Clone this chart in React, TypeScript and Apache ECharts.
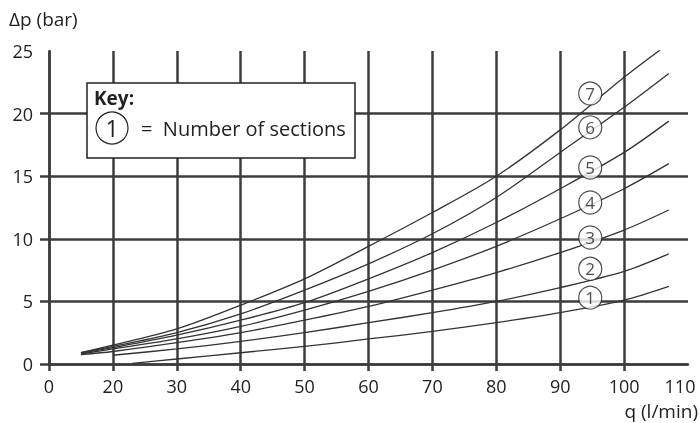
import React, { useEffect, useRef } from "react";
import * as echarts from "echarts";

// x axis is broken: the first grid column (axis value 10) is labelled "0".
const xTicks = [10, 20, 30, 40, 50, 60, 70, 80, 90, 100, 110];
const yTicks = [0, 5, 10, 15, 20, 25];

const q7 = [15, 20, 30, 40, 50, 60, 70, 80, 90, 100, 107];
const s7 = [0.9, 1.5, 2.8, 4.7, 6.8, 9.4, 12.1, 15.0, 18.7, 22.9, 25.6];
const s6 = [0.9, 1.4, 2.5, 4.0, 5.9, 8.0, 10.4, 13.3, 16.9, 20.5, 23.2];
const s5 = [0.85, 1.3, 2.3, 3.5, 4.9, 6.8, 8.9, 11.3, 14.0, 16.9, 19.4];
const s4 = [0.8, 1.2, 2.0, 3.0, 4.3, 5.8, 7.5, 9.4, 11.6, 14.0, 16.0];
const s3 = [0.75, 1.0, 1.7, 2.5, 3.5, 4.6, 5.9, 7.3, 8.9, 10.7, 12.3];
const q2 = [20, 30, 40, 50, 60, 70, 80, 90, 100, 107];
const s2 = [0.7, 1.2, 1.8, 2.5, 3.3, 4.1, 5.0, 6.1, 7.4, 8.8];
const q1 = [23, 30, 40, 50, 60, 70, 80, 90, 100, 107];
const s1 = [0.05, 0.4, 0.9, 1.4, 2.0, 2.6, 3.3, 4.1, 5.1, 6.2];

const labelNames = ["1", "2", "3", "4", "5", "6", "7"];
const labelX = [94.7, 94.7, 94.7, 94.7, 94.7, 94.7, 94.7];
const labelY = [5.3, 7.6, 10.1, 12.9, 15.7, 18.9, 21.6];

const FONT = "'Open Sans', 'DejaVu Sans', sans-serif";
const INK = "#222";
const GRID = "#3c3c3c";

export default function App() {
  const ref = useRef<HTMLDivElement>(null);
  useEffect(() => {
    const chart = echarts.init(ref.current!, null, { renderer: "svg" });
    const curves = [
      [q1, s1],
      [q2, s2],
      [q7, s3],
      [q7, s4],
      [q7, s5],
      [q7, s6],
      [q7, s7],
    ];
    const lineSeries = curves.map(([xs, ys], i) => ({
      type: "line",
      name: "c" + (i + 1),
      data: xs.map((x, j) => [x, ys[j]]),
      smooth: 0.3,
      showSymbol: false,
      lineStyle: { color: "#333", width: 1.3 },
      z: 3,
    }));
    chart.setOption({
      animation: false,
      textStyle: { fontFamily: FONT },
      grid: {
        left: 49,
        right: 12,
        top: 51,
        bottom: 59,
        containLabel: false,
        outerBoundsMode: "none",
      },
      xAxis: {
        type: "value",
        min: 10,
        max: 110,
        interval: 10,
        axisLine: { show: true, lineStyle: { color: GRID, width: 2.5 } },
        axisTick: {
          show: true,
          length: 7,
          customValues: xTicks.slice(0, 10),
          lineStyle: { color: GRID, width: 2.5 },
        },
        splitLine: {
          show: true,
          lineStyle: { color: GRID, width: 2.5 },
        },
        axisLabel: {
          fontSize: 18,
          color: INK,
          margin: 13,
          fontFamily: FONT,
          formatter: (v: number) =>
            v === 10 ? "0" : v === 110 ? "{last|110}" : String(v),
          rich: {
            last: {
              fontSize: 18,
              color: INK,
              fontFamily: FONT,
              padding: [0, 16, 0, 0],
            },
          },
        },
      },
      yAxis: {
        type: "value",
        min: 0,
        max: 25,
        interval: 5,
        axisLine: { show: true, lineStyle: { color: GRID, width: 2.5 } },
        axisTick: {
          show: true,
          length: 9,
          customValues: yTicks.slice(0, 5),
          lineStyle: { color: GRID, width: 2.5 },
        },
        splitLine: {
          show: true,
          lineStyle: { color: GRID, width: 2.5 },
        },
        axisLabel: { fontSize: 18, color: INK, margin: 16, fontFamily: FONT },
      },
      series: [
        ...lineSeries,
        {
          type: "scatter",
          data: labelNames.map((n, i) => ({ name: n, value: [labelX[i], labelY[i]] })),
          symbol: "circle",
          symbolSize: 23,
          itemStyle: { color: "#fff", borderColor: INK, borderWidth: 1.2 },
          label: {
            show: true,
            position: "inside",
            formatter: (p: any) => p.name,
            fontSize: 17,
            color: INK,
            fontFamily: FONT,
          },
          z: 5,
        },
      ],
      graphic: [
        {
          type: "text",
          left: 9,
          top: 9,
          style: { text: "Δp (bar)", fill: INK, fontSize: 19, fontFamily: FONT },
        },
        {
          type: "text",
          right: 2,
          top: 401,
          style: { text: "q (l/min)", fill: INK, fontSize: 19, fontFamily: FONT },
        },
        {
          type: "rect",
          z: 100,
          shape: { x: 87, y: 83, width: 268, height: 75 },
          style: { fill: "#fff", stroke: INK, lineWidth: 1.5 },
        },
        {
          type: "text",
          z: 101,
          x: 94,
          y: 88,
          style: {
            text: "Key:",
            fontSize: 19,
            fontWeight: "bold",
            fontFamily: FONT,
            fill: INK,
          },
        },
        {
          type: "circle",
          z: 101,
          shape: { cx: 112, cy: 128, r: 16 },
          style: { fill: "#fff", stroke: INK, lineWidth: 1.2 },
        },
        {
          type: "text",
          z: 102,
          x: 112,
          y: 128,
          style: {
            text: "1",
            fontSize: 23,
            fontFamily: FONT,
            fill: INK,
            align: "center",
            verticalAlign: "middle",
          },
        },
        {
          type: "text",
          z: 101,
          x: 141,
          y: 128,
          style: {
            text: "=  Number of sections",
            fontSize: 20,
            fontFamily: FONT,
            fill: INK,
            verticalAlign: "middle",
          },
        },
      ],
    });
    return () => chart.dispose();
  }, []);
  return (
    <div
      ref={ref}
      style={{ position: "fixed", left: 0, top: 0, width: 700, height: 423 }}
    />
  );
}
